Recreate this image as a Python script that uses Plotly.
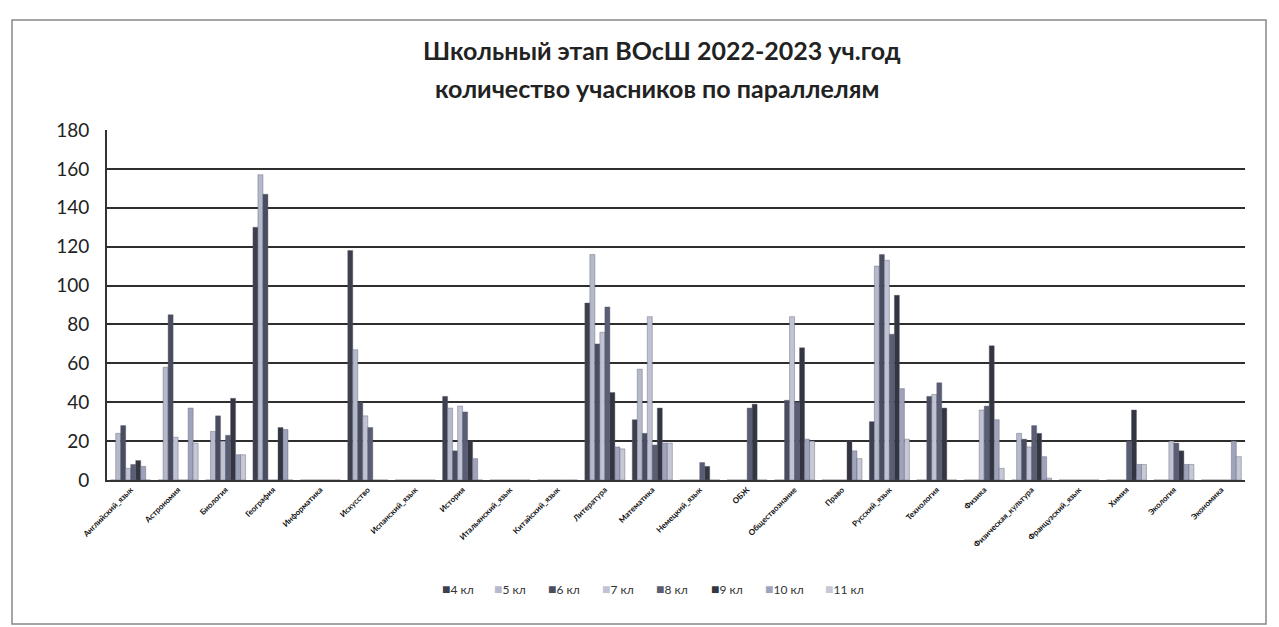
import plotly.graph_objects as go

categories = ["Английский_язык", "Астрономия", "Биология", "География", "Информатика",
              "Искусство", "Испанский_язык", "История", "Итальянский_язык", "Китайский_язык",
              "Литература", "Математика", "Немецкий_язык", "ОБЖ", "Обществознание", "Право",
              "Русский_язык", "Технология", "Физика", "Физическая_культура", "Французский_язык",
              "Химия", "Экология", "Экономика"]

g4 = [0, 0, 0, 130, 0, 118, 0, 43, 0, 0, 91, 31, 0, 0, 0, 0, 30, 0, 0, 0, 0, 0, 0, 0]
g5 = [24, 58, 25, 157, 0, 67, 0, 37, 0, 0, 116, 57, 0, 0, 0, 0, 110, 0, 0, 24, 0, 0, 0, 0]
g6 = [28, 85, 33, 147, 0, 40, 0, 15, 0, 0, 70, 24, 0, 0, 41, 0, 116, 43, 0, 21, 0, 0, 0, 0]
g7 = [6, 22, 20, 0, 0, 33, 0, 38, 0, 0, 76, 84, 0, 0, 84, 0, 113, 44, 36, 17, 0, 0, 20, 0]
g8 = [8, 0, 23, 0, 0, 27, 0, 35, 0, 0, 89, 18, 9, 37, 40, 0, 75, 50, 38, 28, 0, 20, 19, 0]
g9 = [10, 0, 42, 27, 0, 0, 0, 20, 0, 0, 45, 37, 7, 39, 68, 20, 95, 37, 69, 24, 0, 36, 15, 0]
g10 = [7, 37, 13, 26, 0, 0, 0, 11, 0, 0, 17, 19, 0, 0, 21, 15, 47, 0, 31, 12, 0, 8, 8, 20]
g11 = [0, 19, 13, 0, 0, 0, 0, 0, 0, 0, 16, 19, 0, 0, 20, 11, 21, 0, 6, 1, 0, 8, 8, 12]

series_names = ["4 кл", "5 кл", "6 кл", "7 кл", "8 кл", "9 кл", "10 кл", "11 кл"]
series_values = [g4, g5, g6, g7, g8, g9, g10, g11]
colors = ["#3d3f4f", "#b5b9cc", "#4a4d60", "#c0c3d4", "#5a5e75", "#333540", "#9fa3bb", "#c6c8d6"]

# page offset (body margin) compensation: figure is drawn 8px right/down
OFF = 8
W, H = 1279 - OFF, 627 - OFF
PL, PR, PT, PB = 107, 1245, 130, 480          # plot area in page pixels
ml, mt = PL - OFF, PT - OFF
mr, mb = W - (PR - OFF), H - (PB - OFF)
pw, ph = PR - PL, PB - PT


def px(x):
    return (x - PL) / pw


def py(y):
    return (PB - y) / ph


fig = go.Figure()
for name, vals, col in zip(series_names, series_values, colors):
    fig.add_trace(go.Bar(x=categories, y=vals, name=name, showlegend=False,
                         marker=dict(color=col, line=dict(color="#55586a", width=0.4))))

font_family = "Lato, 'Liberation Sans', sans-serif"

fig.update_layout(
    width=W, height=H,
    barmode="group", bargap=0.155, bargroupgap=0,
    paper_bgcolor="white", plot_bgcolor="white",
    margin=dict(l=ml, r=mr, t=mt, b=mb, autoexpand=False),
    font=dict(family=font_family, color="#222"),
    xaxis=dict(tickangle=-45, tickfont=dict(size=8, color="#111", weight=700),
               showline=True, linecolor="#333", linewidth=2, automargin=False,
               showgrid=False, ticks=""),
    yaxis=dict(range=[0, 180], dtick=20, tickfont=dict(size=19, color="#222"),
               showline=True, linecolor="#333", linewidth=2, automargin=False,
               gridcolor="#2e2e2e", gridwidth=2, zeroline=False, ticks="",
               ticklabelstandoff=12),
)

fig.add_annotation(text="<b>Школьный этап ВОсШ 2022-2023 уч.год</b>", xref="paper", yref="paper",
                   x=px(662), y=py(50), xanchor="center", yanchor="middle",
                   showarrow=False, font=dict(size=25, color="#222", family=font_family))
fig.add_annotation(text="<b>количество учасников по параллелям</b>", xref="paper", yref="paper",
                   x=px(657), y=py(88), xanchor="center", yanchor="middle",
                   showarrow=False, font=dict(size=25, color="#222", family=font_family))

# legend drawn as text items
legend_x = [440, 492, 546, 600, 654, 709, 763, 823]
for name, col, lx in zip(series_names, colors, legend_x):
    fig.add_annotation(text=f"<span style='color:{col};font-size:14px'>■</span>{name}",
                       xref="paper", yref="paper",
                       x=px(lx), y=py(588), xanchor="left", yanchor="middle", showarrow=False,
                       font=dict(size=12, color="#333", family=font_family))

fig.add_shape(type="rect", xref="paper", yref="paper",
              x0=px(12), x1=px(1266), y0=py(624), y1=py(20),
              line=dict(color="#888", width=1.5), layer="below")

fig.write_html("out.html")
